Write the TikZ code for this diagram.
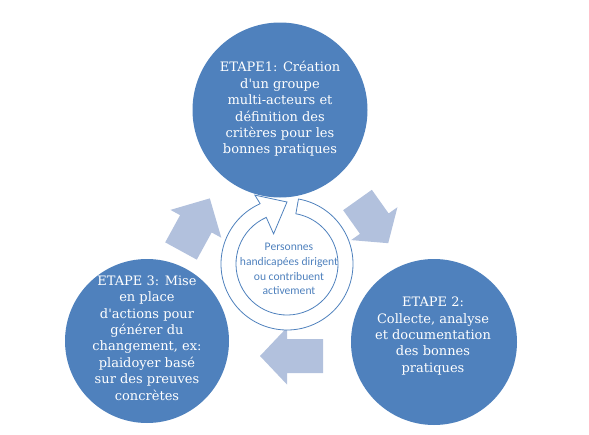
\documentclass[tikz,border=0pt]{standalone}
\usepackage{fontspec}
\usetikzlibrary{calc}
\newfontfamily\etapefont{DejaVu Serif}
\newfontfamily\centrefont{Carlito}
\definecolor{myblue}{RGB}{79,129,189}
\definecolor{mylight}{RGB}{178,193,221}
\tikzset{
  etape/.style={circle, fill=myblue, draw=none, inner sep=0pt},
  etapetext/.style={align=center, text=white, inner sep=0pt,
    font=\etapefont\fontsize{13}{16.4}\selectfont},
  centretext/.style={align=center, text=myblue, inner sep=0pt,
    font=\centrefont\fontsize{11.6}{14.7}\selectfont},
  bigarrow/.style={fill=mylight, draw=none},
  ring/.style={fill=white, draw=myblue, line width=0.8pt, line join=miter}
}
\begin{document}
\begin{tikzpicture}[x=1pt, y=1pt]
  \useasboundingbox (0,0) rectangle (589,-434);
  % the three steps
  \node[etape, minimum size=175pt] (etape1) at (280,-110) {};
  \node[etape, minimum size=166pt] (etape2) at (434,-342) {};
  \node[etape, minimum size=164pt] (etape3) at (147,-341) {};
  \node[etapetext] (txt1) at (280,-109) {ETAPE1: Création\\d'un groupe\\multi-acteurs et\\définition des\\critères pour les\\bonnes pratiques};
  \node[etapetext] (txt2) at (433,-336) {ETAPE 2:\\Collecte, analyse\\et documentation\\des bonnes\\pratiques};
  \node[etapetext] (txt3) at (147,-338) {ETAPE 3: Mise\\en place\\d'actions pour\\générer du\\changement, ex:\\plaidoyer basé\\sur des preuves\\concrètes};
  % block arrows between the steps
  \begin{scope}[shift={(181,-251)}, rotate=61.3]
    \fill[bigarrow] (0,-18) -- (31,-18) -- (31,-29) -- (60,0) -- (31,29) -- (31,18) -- (0,18) -- cycle;
  \end{scope}
  \begin{scope}[shift={(357.5,-200)}, rotate=-54.6]
    \fill[bigarrow] (0,-17.6) -- (29,-17.6) -- (29,-28.4) -- (53,0) -- (29,28.4) -- (29,17.6) -- (0,17.6) -- cycle;
  \end{scope}
  \begin{scope}[shift={(323,-356)}, rotate=180]
    \fill[bigarrow] (0,-17) -- (36,-17) -- (36,-28.5) -- (63,0) -- (36,28.5) -- (36,17) -- (0,17) -- cycle;
  \end{scope}
  % circular arrow in the middle
  \coordinate (hub) at (287,-264);
  \draw[ring] ($(hub)+(80:66)$) arc[start angle=80, end angle=-246, radius=66]
    -- ($(hub)+(115:76)$) -- ($(hub)+(90:62)$) -- ($(hub)+(114:33)$)
    -- ($(hub)+(114:51)$) arc[start angle=-246, end angle=80, radius=51] -- cycle;
  \node[centretext] (centre) at (289,-269) {Personnes\\handicapées dirigent\\ou contribuent\\activement};
\end{tikzpicture}
\end{document}
